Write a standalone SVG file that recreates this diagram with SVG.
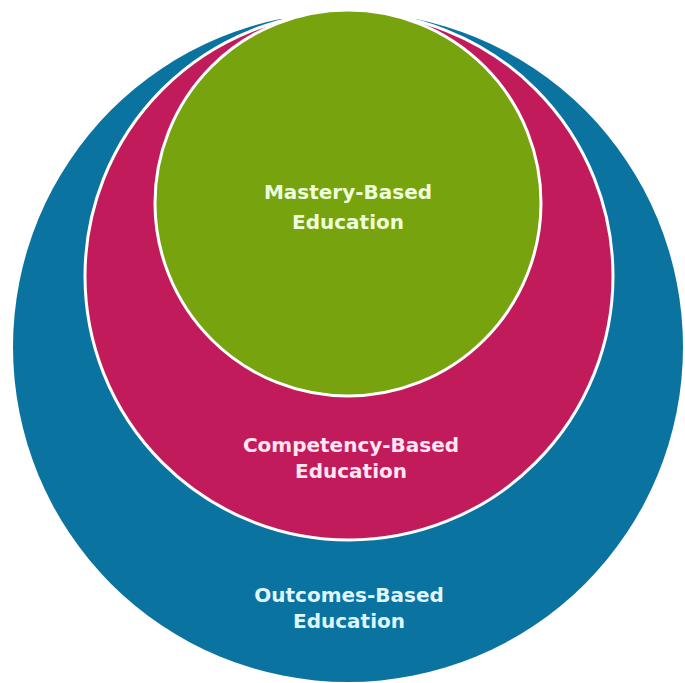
<svg xmlns="http://www.w3.org/2000/svg" width="685" height="683" viewBox="0 0 685 683">
  <style>
    .lbl { font-family: "DejaVu Sans", "Liberation Sans", sans-serif; font-weight: bold; font-size: 20px; text-anchor: middle; }
    .outer { fill: #0a73a0; }
    .mid { fill: #c21b5c; stroke: #ffffff; stroke-width: 3; }
    .inner { fill: #77a30f; stroke: #ffffff; stroke-width: 3; }
    .t-outer { fill: #dff5ff; }
    .t-mid { fill: #ffe6f0; }
    .t-inner { fill: #eeffdc; }
  </style>
  <rect width="685" height="683" fill="#ffffff"/>
  <g id="outcomes-based">
    <circle class="outer" cx="348" cy="347" r="335"/>
    <text class="lbl t-outer" x="349" y="602">Outcomes-Based</text>
    <text class="lbl t-outer" x="349" y="628">Education</text>
  </g>
  <g id="competency-based">
    <circle class="mid" cx="349" cy="276" r="264"/>
    <text class="lbl t-mid" x="351" y="452">Competency-Based</text>
    <text class="lbl t-mid" x="351" y="478">Education</text>
  </g>
  <rect x="0" y="0" width="685" height="19" fill="#ffffff"/>
  <g id="mastery-based">
    <circle class="inner" cx="348" cy="203" r="193"/>
    <text class="lbl t-inner" x="348" y="199">Mastery-Based</text>
    <text class="lbl t-inner" x="348" y="229">Education</text>
  </g>
  <g id="connectors"/>
</svg>
